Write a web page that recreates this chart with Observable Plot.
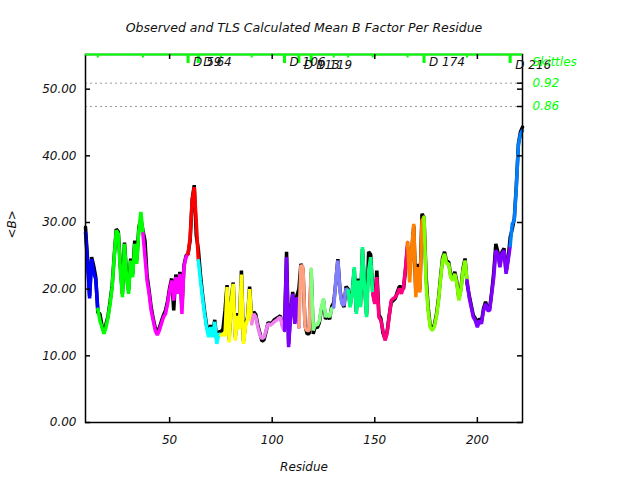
<!DOCTYPE html>
<html><head><meta charset="utf-8">
<script src="https://cdn.jsdelivr.net/npm/d3@7"></script>
<script src="https://cdn.jsdelivr.net/npm/@observablehq/plot@0.6"></script>
<style>body{margin:0;background:#fff;} svg{font-family:"DejaVu Sans",sans-serif;}</style>
</head><body><div id="chart"></div>
<script>
const firstResidue = 9;
// TLS calculated mean B per residue (residues 9..222)
const tlsB = [
28.5,24,18.6,24.5,22.5,21.5,17,                       // 9-15
15.3,14.3,13.3,14.3,15.8,17.8,20.3,24.8,28.8,28.3,     // 16-25
22.8,18.8,26.8,21.8,19.3,24.3,21.8,26.8,23.8,28.8,     // 26-35
31.6,28.3,24.8,21.3,19.3,16.8,15.3,13.8,13.1,13.8,     // 36-45
14.8,15.8,16.3,17.8,19.8,21.3,18.3,21.8,19.3,22.3,     // 46-55
16.3,23.3,24.8,25.3,27.8,33.3,35.3,30,24.3,21.3,       // 56-65
18.8,16.3,14.3,12.8,14.3,12.8,15.1,11.8,13.3,13.1,     // 66-75
13.3,13,20.3,12,18,20.8,12.3,16,14,22.2,               // 76-85
11.8,14.5,15.5,20,14.8,16.3,15.8,14.3,13.1,12.6,       // 86-95
12.8,13.8,14.8,14.6,14.8,15.1,15.3,15.6,15.8,14.3,     // 96-105
13.8,24.8,11.3,16.3,19.3,14.8,18.8,14.3,23.6,23.3,     // 106-115
14.3,13.8,13.8,23,13.8,14.8,14.6,15.3,17.3,18.6,       // 116-125
15.8,16.3,15.8,17.1,17.3,21.3,24.3,19.8,17.8,17.6,     // 126-135
20.1,19.8,17.3,19.3,23.3,16.3,21.3,17.3,26.3,20.3,     // 136-145
15.8,22.8,24.8,19.3,17.8,21.8,15.8,15.3,13.8,12.3,     // 146-155
13.3,15.8,18.3,18.6,18.8,19.3,20.1,19.3,20.3,23.3,     // 156-165
27,21,26,29.8,18.8,23.3,19.5,30.3,30.8,20.8,           // 166-175
16.8,14.3,13.8,14.3,15.8,18.1,21.3,24.3,25.3,23.8,     // 176-185
23.8,21.8,21.3,22.3,20.8,18.3,19.8,22.8,24.3,21.3,     // 186-195
18.8,17.3,15.8,15.3,14.3,15.3,14.8,16.8,17.8,16.8,     // 196-205
16.8,19.3,21.8,25.8,25.3,23.3,25.3,25.8,22.3,24.3,     // 206-215
26.5,29.8,30.3,35.3,41.6,43.3,43.8                     // 216-222
];
// Observed mean B per residue (residues 9..222)
const obsB = [
29.3,24.5,19,24.8,23.5,21.8,16.5,
16.3,14.6,13.6,14.8,16,18.2,20.6,25,29,28.6,
23.3,19.3,27,22.3,19.8,24.6,22.3,27.3,24.3,29.3,
30.5,28.8,27.3,22,19.8,17.3,15.6,14.2,13.6,14.2,
15.2,16.1,16.8,18.2,20.2,21.6,16.8,22.2,19.8,22.6,
17.3,23.6,25,25.3,27.3,33.5,35.6,28,26,22.3,
19.3,16.8,14.6,13.3,14.6,13.2,15.4,12.3,13.6,13.6,
14,16.8,20.6,12.4,18.3,21,12.8,16.4,14.4,22.8,
12.2,14.8,15.8,20.4,15.2,16.6,16.2,14.6,13.4,12.2,
12.4,13.6,15,14.8,15,15.4,15.6,15.8,16,14.6,
14.2,25.6,11.8,16.6,19.6,15.2,19,20,23.8,23,
14.6,13.3,13.3,22.6,13.3,14.4,14.2,15,17,18.3,
15.5,16,15.5,17.4,18,21,24.5,20,18,17.3,
20.4,20,17.6,19.6,23,16.6,21.6,17.6,26,20.6,
16.2,25.6,25.2,19.6,18,22.8,16.2,15.6,13.4,12.6,
13.6,16,18,18.3,18.6,19.6,20.4,20.3,20,23,
26.5,23,25.5,29.5,19.5,23.8,20,31.3,30.8,22,
17.3,14.6,14.1,14.6,16.1,18.4,21.6,24.6,25.6,24.1,
24.1,22.1,21.6,22.6,21.1,18.6,20.1,23.1,24.6,20.8,
19.1,17.6,16.1,15.6,14.6,15.6,15.1,17.1,18.1,17.1,
17.1,19.6,22.6,26.8,25.6,23.6,25.6,26.1,22.6,24.6,
27.8,29,30.6,35.6,41.8,43.6,44.3
];
const groupStarts = [9,15,37,59,64,75,90,106,113,119,130,137,149,166,174,195,216];
const groupEnd = 222;
const groupColors = ["#0000ff","#00ff00","#ff00ff","#ff0000","#00ffff","#ffff00","#f080f0","#8000ff","#ffa080","#80ff80","#8080ff","#00ff80","#ff0080","#ff8000","#80ff00","#8000ff","#0080ff"];
const skittleResidues = [15,37,59,64,75,90,106,113,119,130,137,149,166,174,195,216];
const labelledSkittles = [59,64,106,113,119,174,216];
const lowerLabels = [113,119,216];
const yTicks = [0,10,20,30,40,50];
const xTicks = [50,100,150,200];
const thresholdLabels = ["0.92","0.86"];
const thresholdValues = [50.9,47.4];

const obsRows = obsB.map((b,i)=>({r:firstResidue+i,b}));
const tlsRows = [];
groupStarts.forEach((s,gi)=>{
  const e = gi+1<groupStarts.length ? groupStarts[gi+1] : groupEnd;
  for(let r=s;r<=e;r++) tlsRows.push({r,b:tlsB[r-firstResidue],g:gi,color:groupColors[gi]});
});
const thresholds = thresholdValues.map((v,i)=>({v,label:thresholdLabels[i]}));
const skittles = skittleResidues.map(r=>({r,long:labelledSkittles.includes(r)}));
const skLabels = labelledSkittles.map(r=>({r,label:"D "+r,low:lowerLabels.includes(r)}));

const W=640,H=480,mt=54,mb=58,ml=85,mr=118;
const fw=W-ml-mr, fh=H-mt-mb;
const italic={fontStyle:"italic",fontSize:12,fill:"#111"};
const green="#00ff00";

const chart = Plot.plot({
  width:W,height:H,marginTop:mt,marginBottom:mb,marginLeft:ml,marginRight:mr,
  x:{domain:[9,222]},
  y:{domain:[0,55.2]},
  color:{type:"identity"},
  style:{fontFamily:"DejaVu Sans",background:"white"},
  marks:[
    Plot.ruleY(thresholds,{y:"v",stroke:"#999",strokeDasharray:"2,3",strokeWidth:1}),
    Plot.line(obsRows,{x:"r",y:"b",stroke:"black",strokeWidth:3.5,strokeLinejoin:"miter"}),
    Plot.line(tlsRows,{x:"r",y:"b",z:"g",stroke:"color",strokeWidth:3.5,strokeLinejoin:"miter"}),
    Plot.frame({stroke:"black",strokeWidth:1.5}),
    Plot.ruleY([55.2],{stroke:green,strokeWidth:2}),
    // inward ticks
    Plot.tickY(yTicks,{y:d=>d,insetRight:fw-5,stroke:"black",strokeWidth:1.5}),
    Plot.tickY(yTicks.concat(thresholdValues),{y:d=>d,insetLeft:fw-5,stroke:"black",strokeWidth:1.5}),
    Plot.tickX(xTicks,{x:d=>d,insetTop:fh-5,stroke:"black",strokeWidth:1.5}),
    Plot.tickX(xTicks,{x:d=>d,insetBottom:fh-5,stroke:"black",strokeWidth:1.5}),
    // skittles
    Plot.tickX(skittles.filter(d=>!d.long),{x:"r",insetBottom:fh-3.5,stroke:green,strokeWidth:2}),
    Plot.tickX(skittles.filter(d=>d.long),{x:"r",insetBottom:fh-9,stroke:green,strokeWidth:3}),
    Plot.text(skLabels.filter(d=>!d.low),{x:"r",text:"label",frameAnchor:"top",lineAnchor:"middle",dy:8,dx:5,textAnchor:"start",...italic}),
    Plot.text(skLabels.filter(d=>d.low),{x:"r",text:"label",frameAnchor:"top",lineAnchor:"middle",dy:11,dx:5,textAnchor:"start",...italic}),
    Plot.text(["Skittles"],{frameAnchor:"top-right",lineAnchor:"middle",dx:10,dy:8,textAnchor:"start",...italic,fill:green}),
    Plot.text(thresholds,{y:"v",text:"label",frameAnchor:"right",lineAnchor:"middle",dx:10,textAnchor:"start",...italic,fill:green}),
    // axes
    Plot.axisY(yTicks,{tickSize:0,tickPadding:9,tickFormat:d=>d.toFixed(2),label:null,...italic}),
    Plot.axisX(xTicks,{tickSize:0,tickPadding:13,label:null,...italic}),
    Plot.text(["Residue"],{frameAnchor:"bottom",lineAnchor:"middle",dy:45,...italic}),
    Plot.text(["<B>"],{frameAnchor:"left",lineAnchor:"middle",dx:-73,rotate:-90,...italic}),
    Plot.text(["Observed and TLS Calculated Mean B Factor Per Residue"],{frameAnchor:"top",lineAnchor:"middle",dy:-27,...italic,fontSize:12.5})
  ]
});
document.getElementById("chart").append(chart);
</script>
</body></html>
